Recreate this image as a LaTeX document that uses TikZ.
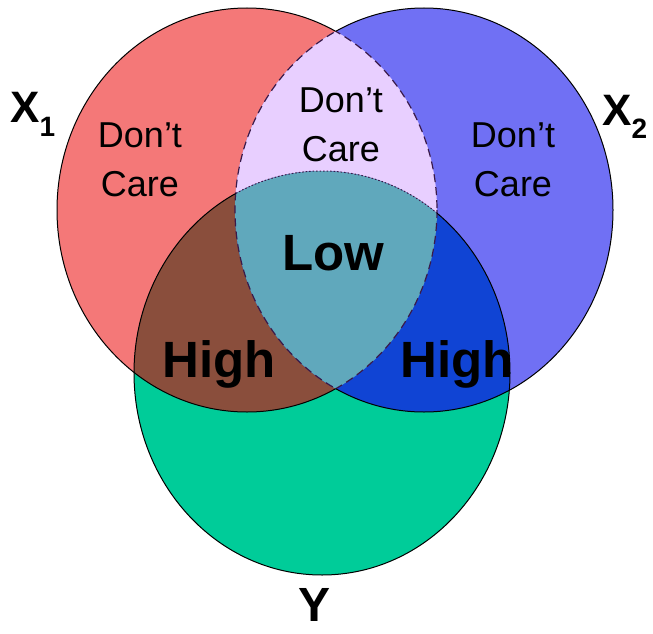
\documentclass[tikz,border=0pt]{standalone}
\usepackage{fontspec}
\setmainfont{Liberation Sans}
\definecolor{redc}{HTML}{F47878}
\definecolor{bluec}{HTML}{7070F4}
\definecolor{greenc}{HTML}{00CC99}
\definecolor{lavc}{HTML}{E8CFFF}
\definecolor{brownc}{HTML}{8A4E3C}
\definecolor{dbluec}{HTML}{1044D4}
\definecolor{lowc}{HTML}{60A8BC}
\definecolor{dashc}{HTML}{3A1A4A}
\newcommand\ellA{(247,210) ellipse [x radius=190, y radius=202]}
\newcommand\ellB{(424,210) ellipse [x radius=189, y radius=202]}
\newcommand\ellY{(322,373) ellipse [x radius=188, y radius=202]}
\newcommand\fullrect{(-10,-10) rectangle (670,650)}
\begin{document}
\begin{tikzpicture}[x=1pt,y=-1pt,
  outline/.style={draw=black,line width=1pt},
  dashline/.style={draw=dashc,line width=1.2pt,dash pattern=on 8pt off 5pt},
  dotline/.style={draw=dashc,line width=1pt,dash pattern=on 1.5pt off 2pt},
  dc/.style={font=\fontsize{36}{49}\selectfont,align=center,inner sep=0pt,anchor=center},
  big/.style={font=\fontsize{51}{51}\selectfont\bfseries,inner sep=0pt,anchor=base},
  lab/.style={font=\fontsize{44}{44}\selectfont\bfseries,inner sep=0pt,anchor=base west}]
\useasboundingbox (0,0) rectangle (653,634);
% base fills
\fill[redc] \ellA;
\fill[bluec] \ellB;
\fill[greenc] \ellY;
% X1 and X2
\begin{scope}\clip \ellA; \fill[lavc] \ellB; \end{scope}
% X1 and Y
\begin{scope}\clip \ellA; \fill[brownc] \ellY; \end{scope}
% X2 and Y
\begin{scope}\clip \ellB; \fill[dbluec] \ellY; \end{scope}
% all three
\begin{scope}\clip \ellA; \clip \ellB; \fill[lowc] \ellY; \end{scope}
% outlines of X1
\begin{scope}[even odd rule]\clip \fullrect \ellB; \path[outline] \ellA; \end{scope}
\begin{scope}\clip \ellB; \path[dashline] \ellA; \end{scope}
% outlines of X2
\begin{scope}[even odd rule]\clip \fullrect \ellA; \path[outline] \ellB; \end{scope}
\begin{scope}\clip \ellA; \path[dashline] \ellB; \end{scope}
% outlines of Y
\begin{scope}[even odd rule]\clip \fullrect \ellA; \path[outline] \ellY; \end{scope}
\begin{scope}[even odd rule]\clip \ellA; \clip \fullrect \ellB; \path[outline] \ellY; \end{scope}
\begin{scope}\clip \ellA; \clip \ellB; \path[dotline] \ellY; \end{scope}
% texts
\node[dc] (dc1) at (140,160) {Don’t\\Care};
\node[dc] (dc2) at (341,125) {Don’t\\Care};
\node[dc] (dc3) at (513,160) {Don’t\\Care};
\node[big] (low) at (333,270) {Low};
\node[big] (high1) at (219,377) {High};
\node[big] (high2) at (457,377) {High};
\node[lab] (x1) at (10,122) {X\raisebox{-14pt}{\fontsize{28}{28}\selectfont 1}};
\node[lab] (x2) at (602,125) {X\raisebox{-13pt}{\fontsize{28}{28}\selectfont 2}};
\node[big,font=\fontsize{48}{48}\selectfont\bfseries] (y) at (315,621) {Y};
\end{tikzpicture}
\end{document}
